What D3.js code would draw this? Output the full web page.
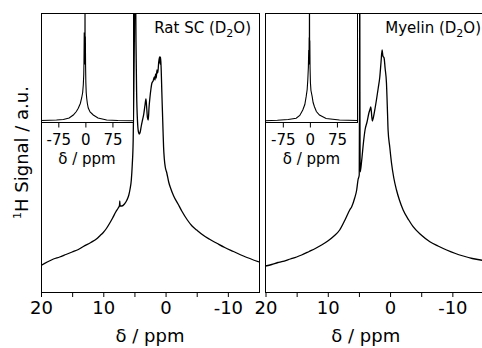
<!DOCTYPE html>
<html>
<head>
<meta charset="utf-8">
<script src="https://cdn.jsdelivr.net/npm/d3@7"></script>
<style>
  html, body { margin: 0; padding: 0; background: #fff; }
  svg { display: block; font-family: "DejaVu Sans", Verdana, sans-serif; }
</style>
</head>
<body>
<svg id="chart" width="482" height="348"></svg>
<script>
// chemical shift (ppm) and signal (a.u.)
const ratDelta = [20, 19, 18, 17, 16, 15, 14, 13.2, 12, 11, 10.5, 10, 9.5, 9, 8.5, 8, 7.6, 7.4, 7.35, 7.3, 7.0, 6.6, 6.2, 5.9, 5.7, 5.5, 5.35, 5.2, 5.1, 5.0, 4.92, 4.85, 4.75, 4.65, 4.5, 4.35, 4.2, 4.07, 3.9, 3.7, 3.5, 3.3, 3.15, 3.05, 2.9, 2.78, 2.65, 2.5, 2.35, 2.19, 2.0, 1.8, 1.7, 1.6, 1.5, 1.38, 1.25, 1.1, 0.96, 0.88, 0.8, 0.7, 0.6, 0.5, 0.4, 0.32, 0.2, 0.05, -0.2, -0.5, -0.8, -1.3, -2.0, -2.6, -3.5, -4.25, -5, -6, -7, -8.3, -9.5, -10.9, -12.5, -15];
const ratSignal = [26.5, 30, 33, 35, 37.5, 40, 42.5, 45.5, 49.5, 53.5, 56.5, 59.5, 63.5, 68.5, 74, 80, 84, 86.5, 91, 86, 86, 88, 92, 97, 103, 112, 127, 152, 200, 260, 330, 330, 250, 200, 170, 160, 158, 160, 166, 172, 178, 187, 193, 186, 174, 172, 185, 195, 203, 209, 211, 215, 212, 218, 214, 222, 219, 230, 235, 228, 235, 222, 200, 180, 160, 145, 133, 125, 119, 110, 104, 96, 88, 81, 72, 66, 62, 57, 53, 48.5, 44.5, 40.5, 36, 30];

const myelinDelta = [20, 19, 18, 17.4, 16, 15, 14.2, 13, 12, 11, 10, 9, 8.09, 7.24, 6.48, 6.16, 5.68, 5.36, 5.15, 4.95, 4.9, 4.87, 4.84, 4.8, 4.55, 4.28, 4.02, 3.7, 3.4, 3.2, 3.1, 3.0, 2.85, 2.7, 2.4, 2.19, 1.9, 1.65, 1.45, 1.28, 1.15, 0.96, 0.8, 0.58, 0.4, 0.32, 0.05, -0.23, -0.6, -1.03, -1.5, -2.1, -3, -3.7, -5, -6.39, -7.7, -9.08, -10.5, -11.75, -13.2, -15];
const myelinSignal = [26, 27.5, 29.5, 30.3, 33, 35, 37, 40.5, 43.5, 47, 51, 56, 62, 72, 82, 85.3, 94, 102, 112, 117, 200, 330, 200, 120, 132, 149, 162, 170, 179, 183, 185, 180, 171, 174, 184, 192, 204, 215, 230, 242, 236, 234, 224, 209, 177, 162, 145, 129, 114, 102, 92, 82, 72, 65.3, 57, 50.3, 46, 42, 38.5, 36, 33.5, 31.5];

// insets: wide range spectra (axis runs -75 -> 75 left to right)
const ratInsetDelta = [-123, -100, -80, -61, -45, -33.5, -25, -19.7, -14, -10.3, -7.5, -5.8, -4.5, -3.9, -3.2, -2.6, -2.0, -1.4, -1.0, -0.6, 0.0, 0.6, 1.3, 2.3, 3.6, 5.5, 8, 13, 21.9, 35, 59, 90, 132];
const ratInsetSignal = [2.0, 2.3, 2.5, 3.0, 4.5, 7.5, 11, 14.2, 19, 24.5, 30, 37.5, 48, 60, 90, 62, 88, 58, 140, 60, 86, 56, 40, 30, 24.5, 19, 14.5, 10.5, 7.5, 4.5, 2.5, 2.0, 1.8];

const myelinInsetDelta = [-123, -90, -60, -38, -28, -19.7, -14, -10.3, -7.5, -5.8, -4.2, -3.2, -2.6, -2.0, -1.6, -1.1, -0.6, -0.1, 0.5, 1.5, 3, 6.4, 9, 12.7, 18, 26.6, 45, 82, 132];
const myelinInsetSignal = [1.8, 2.2, 3.0, 4.2, 7, 12.5, 18, 25.8, 33, 42.5, 55, 72.5, 58, 85, 62, 140, 65, 82, 55, 40, 32, 25.8, 20, 15.8, 11, 7.5, 4, 2.5, 2.0];

const xTicks = [20, 15, 10, 5, 0, -5, -10];
const xTickLabels = [20, 10, 0, -10];
const insetTicks = [-75, 0, 75];
const panelTitles = ["Rat SC (D", "Myelin (D"];

const svg = d3.select("#chart");
const yTop = 13, yBottom = 292;
const insetBottom = 122.5;

const panels = [
  { x0: 41, x1: 259, delta: ratDelta, signal: ratSignal, iDelta: ratInsetDelta, iSignal: ratInsetSignal, title: panelTitles[0], titleX: 251 },
  { x0: 265.5, x1: 483.5, delta: myelinDelta, signal: myelinSignal, iDelta: myelinInsetDelta, iSignal: myelinInsetSignal, title: panelTitles[1], titleX: 481 }
];

const y = d3.scaleLinear().domain([0, 279]).range([yBottom, yTop]);
const yi = d3.scaleLinear().domain([0, 109.5]).range([insetBottom, yTop]);

panels.forEach(function (p, i) {
  var x = d3.scaleLinear().domain([20, -15]).range([p.x0, p.x1]);
  var xi = d3.scaleLinear().domain([-123, 132]).range([p.x0, p.x0 + 92]);
  var g = svg.append("g");

  g.append("clipPath").attr("id", "clip" + i)
    .append("rect").attr("x", p.x0).attr("y", yTop).attr("width", p.x1 - p.x0).attr("height", yBottom - yTop);
  g.append("clipPath").attr("id", "iclip" + i)
    .append("rect").attr("x", p.x0).attr("y", yTop).attr("width", 92).attr("height", insetBottom - yTop);

  var line = d3.line()
    .x(function (d) { return x(d[0]); })
    .y(function (d) { return y(d[1]); })
    .curve(d3.curveMonotoneX);
  g.append("path")
    .datum(d3.zip(p.delta, p.signal))
    .attr("clip-path", "url(#clip" + i + ")")
    .attr("fill", "none").attr("stroke", "#000").attr("stroke-width", 1.3)
    .attr("d", line);

  // frame
  g.append("rect")
    .attr("x", p.x0).attr("y", yTop).attr("width", p.x1 - p.x0).attr("height", yBottom - yTop)
    .attr("fill", "none").attr("stroke", "#000").attr("stroke-width", 1)
    .attr("shape-rendering", "crispEdges");

  var ax = g.append("g")
    .attr("transform", "translate(0," + yBottom + ")")
    .call(d3.axisBottom(x).tickValues(xTicks).tickSize(5).tickPadding(4)
      .tickFormat(function (d) { return xTickLabels.indexOf(d) >= 0 ? String(d) : ""; }));
  ax.select(".domain").remove();
  ax.selectAll("text").style("font-family", "DejaVu Sans").style("font-size", "18px").attr("fill", "#000");

  g.append("text")
    .attr("x", (p.x0 + Math.min(p.x1, 482)) / 2 + (i ? -8 : 0)).attr("y", 342)
    .attr("text-anchor", "middle").style("font-size", "18px")
    .text("δ / ppm");

  // title
  var t = g.append("text").attr("x", p.titleX).attr("y", 33)
    .attr("text-anchor", "end").style("font-size", "15px");
  t.append("tspan").text(p.title);
  t.append("tspan").attr("dy", 4).style("font-size", "11px").text("2");
  t.append("tspan").attr("dy", -4).text("O)");

  // inset
  var ig = g.append("g");
  ig.append("rect")
    .attr("x", p.x0).attr("y", yTop).attr("width", 92).attr("height", insetBottom - yTop)
    .attr("fill", "#fff").attr("stroke", "#000").attr("stroke-width", 1)
    .attr("shape-rendering", "crispEdges");
  var iline = d3.line()
    .x(function (d) { return xi(d[0]); })
    .y(function (d) { return yi(d[1]); });
  ig.append("path")
    .datum(d3.zip(p.iDelta, p.iSignal))
    .attr("clip-path", "url(#iclip" + i + ")")
    .attr("fill", "none").attr("stroke", "#000").attr("stroke-width", 1.1)
    .attr("d", iline);
  var iax = ig.append("g")
    .attr("transform", "translate(0," + insetBottom + ")")
    .call(d3.axisBottom(xi).tickValues(insetTicks).tickSize(5).tickPadding(7).tickFormat(String));
  iax.select(".domain").remove();
  iax.selectAll("text").style("font-family", "DejaVu Sans").style("font-size", "15px").attr("fill", "#000");
  ig.append("text")
    .attr("x", p.x0 + 46).attr("y", 164)
    .attr("text-anchor", "middle").style("font-size", "15px")
    .text("δ / ppm");
});

// y axis title
var yl = svg.append("text")
  .attr("transform", "translate(28," + (yTop + yBottom) / 2 + ") rotate(-90)")
  .attr("text-anchor", "middle").style("font-size", "18px");
yl.append("tspan").attr("dy", -7).style("font-size", "11px").text("1");
yl.append("tspan").attr("dy", 7).text("H Signal / a.u.");
</script>
</body>
</html>
